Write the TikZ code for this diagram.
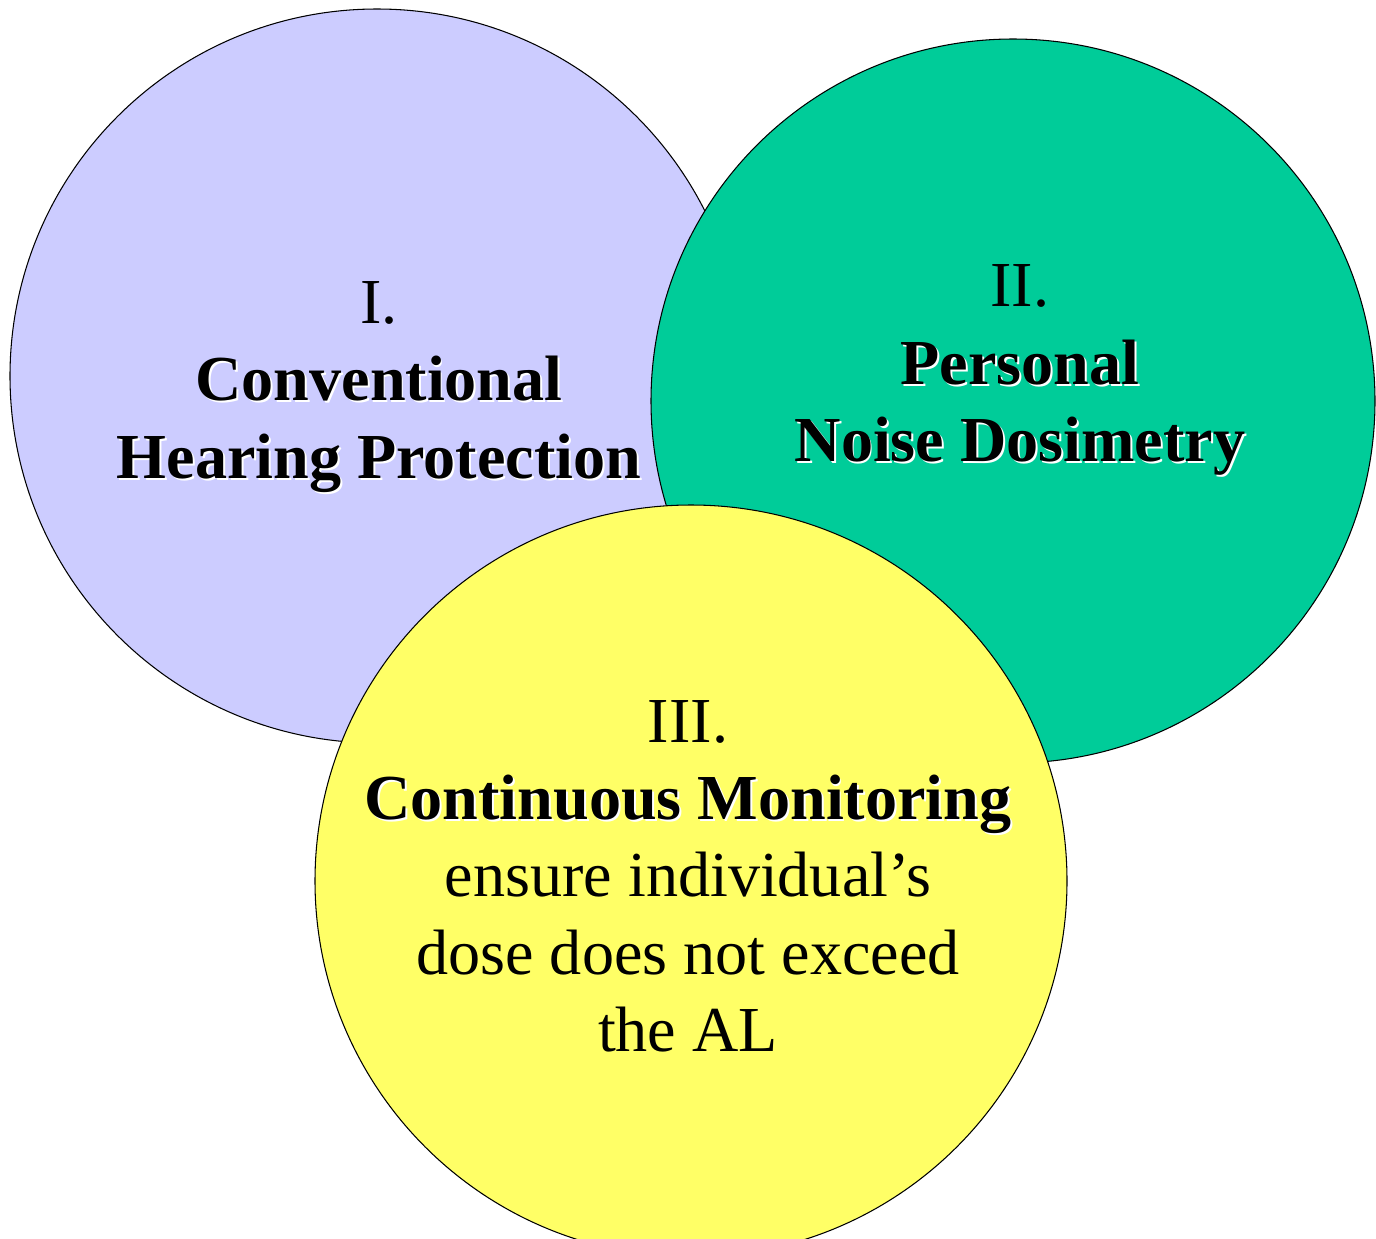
\documentclass[tikz,border=0pt]{standalone}
\usepackage{fontspec}
\setmainfont{Liberation Serif}
\usepackage{xcolor}
\usepackage{tikz}
\definecolor{hplavender}{HTML}{CCCCFF}
\definecolor{hpgreen}{HTML}{00CC99}
\definecolor{hpyellow}{HTML}{FFFF66}
\newcommand{\shd}[1]{\rlap{\kern1.1pt\raisebox{-1.1pt}{\color{white}#1}}#1}
\tikzset{
  ring/.style={draw=black, line width=0.6pt},
  label/.style={align=center, font=\fontsize{36.5}{44}\selectfont, inner sep=0pt}
}
\begin{document}
\begin{tikzpicture}[x=0.02cm,y=-0.02cm]
  \useasboundingbox (0,0) rectangle (1376,1238);
  \draw[ring, fill=hplavender] (377,376) circle (367);
  \draw[ring, fill=hpgreen] (1013,401) circle (362);
  \draw[ring, fill=hpyellow] (691,881) circle (376);
  \node[label] (hearing) at (379,388)
    {I.\\ \textbf{\shd{Conventional}}\\ \textbf{\shd{Hearing Protection}}};
  \node[label] (dosimetry) at (1020,371)
    {II.\\ \textbf{\shd{Personal}}\\ \textbf{\shd{Noise Dosimetry}}};
  \node[label] (monitoring) at (688,876)
    {III.\\ \textbf{\shd{Continuous Monitoring}}\\ ensure individual’s\\ dose does not exceed\\ the AL};
\end{tikzpicture}
\end{document}
